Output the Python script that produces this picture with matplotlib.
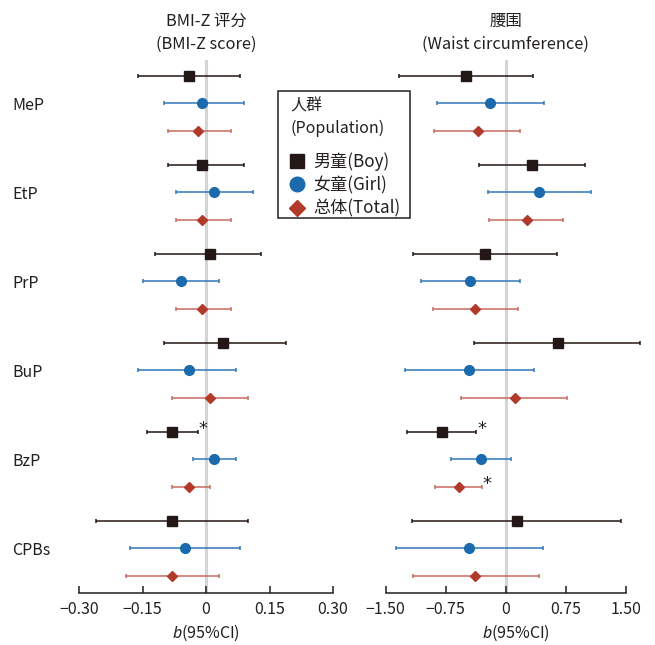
import matplotlib
matplotlib.use("Agg")
import matplotlib.pyplot as plt
from matplotlib.lines import Line2D
from matplotlib.patches import Rectangle
from matplotlib.transforms import blended_transform_factory
import numpy as np

plt.rcParams['font.family'] = ['Noto Sans CJK SC', 'DejaVu Sans']
plt.rcParams['mathtext.fontset'] = 'custom'
plt.rcParams['mathtext.it'] = 'Noto Sans:italic'
plt.rcParams['mathtext.rm'] = 'Noto Sans CJK SC'
plt.rcParams['axes.unicode_minus'] = True

# ---------------- data ----------------
categories = ["MeP", "EtP", "PrP", "BuP", "BzP", "CPBs"]
groups = ["男童(Boy)", "女童(Girl)", "总体(Total)"]

# BMI-Z score: estimate, lower CI, upper CI
bmi_boy_est = [-0.04, -0.01, 0.01, 0.04, -0.08, -0.08]
bmi_boy_lo = [-0.16, -0.09, -0.12, -0.10, -0.14, -0.26]
bmi_boy_hi = [0.08, 0.09, 0.13, 0.19, -0.02, 0.10]
bmi_girl_est = [-0.01, 0.02, -0.06, -0.04, 0.02, -0.05]
bmi_girl_lo = [-0.10, -0.07, -0.15, -0.16, -0.03, -0.18]
bmi_girl_hi = [0.09, 0.11, 0.03, 0.07, 0.07, 0.08]
bmi_tot_est = [-0.02, -0.01, -0.01, 0.01, -0.04, -0.08]
bmi_tot_lo = [-0.09, -0.07, -0.07, -0.08, -0.08, -0.19]
bmi_tot_hi = [0.06, 0.06, 0.06, 0.10, 0.01, 0.03]
bmi_boy_sig = [False, False, False, False, True, False]
bmi_girl_sig = [False] * 6
bmi_tot_sig = [False] * 6

# Waist circumference
wc_boy_est = [-0.50, 0.33, -0.26, 0.65, -0.80, 0.14]
wc_boy_lo = [-1.34, -0.34, -1.16, -0.40, -1.23, -1.17]
wc_boy_hi = [0.34, 0.99, 0.64, 1.68, -0.37, 1.44]
wc_girl_est = [-0.20, 0.41, -0.45, -0.46, -0.31, -0.46]
wc_girl_lo = [-0.86, -0.22, -1.06, -1.26, -0.68, -1.37]
wc_girl_hi = [0.48, 1.06, 0.18, 0.35, 0.07, 0.47]
wc_tot_est = [-0.35, 0.26, -0.38, 0.11, -0.59, -0.38]
wc_tot_lo = [-0.90, -0.21, -0.91, -0.56, -0.89, -1.16]
wc_tot_hi = [0.18, 0.72, 0.15, 0.77, -0.30, 0.42]
wc_boy_sig = [False, False, False, False, True, False]
wc_girl_sig = [False] * 6
wc_tot_sig = [False, False, False, False, True, False]

bmi_ticks = [-0.30, -0.15, 0, 0.15, 0.30]
bmi_ticklabels = ["−0.30", "−0.15", "0", "0.15", "0.30"]
wc_ticks = [-1.50, -0.75, 0, 0.75, 1.50]
wc_ticklabels = ["−1.50", "−0.75", "0", "0.75", "1.50"]

# ---------------- style ----------------
marker_col = ["#231815", "#1b6aad", "#b23a2b"]
err_col = ["#231815", "#2f78b8", "#c86a5f"]
markers = ["s", "o", "D"]
msizes = [7.0, 7.0, 5.5]
dark = "#231f20"

W, H = 655, 645
fig = plt.figure(figsize=(W / 100, H / 100), dpi=100)

ax_top, ax_bot = 60, 592.7
axL = fig.add_axes([79 / W, 1 - ax_bot / H, (333 - 79) / W, (ax_bot - ax_top) / H])
axR = fig.add_axes([385.7 / W, 1 - ax_bot / H, 260 / W, (ax_bot - ax_top) / H])

gap = 3.24
ncat = len(categories)
group_base = np.arange(ncat) * gap


def draw(ax, est, lo, hi, sig):
    for k in range(3):
        e = np.array(est[k]); l = np.array(lo[k]); h = np.array(hi[k])
        y = -(group_base + k)
        ax.errorbar(e, y, xerr=[e - l, h - e], fmt='none', ecolor=err_col[k],
                    elinewidth=1.1, capsize=1.7, capthick=1.1, zorder=3)
        ax.plot(e, y, linestyle='none', marker=markers[k], ms=msizes[k],
                color=marker_col[k], mec=marker_col[k], zorder=4)
        for i in range(ncat):
            if sig[k][i]:
                ax.annotate("*", xy=(h[i], y[i]), xytext=(0.8, -1.3), textcoords='offset points',
                            ha='left', va='baseline', fontsize=13, color=dark,
                            family='DejaVu Sans')


draw(axL, [bmi_boy_est, bmi_girl_est, bmi_tot_est], [bmi_boy_lo, bmi_girl_lo, bmi_tot_lo],
     [bmi_boy_hi, bmi_girl_hi, bmi_tot_hi], [bmi_boy_sig, bmi_girl_sig, bmi_tot_sig])
draw(axR, [wc_boy_est, wc_girl_est, wc_tot_est], [wc_boy_lo, wc_girl_lo, wc_tot_lo],
     [wc_boy_hi, wc_girl_hi, wc_tot_hi], [wc_boy_sig, wc_girl_sig, wc_tot_sig])

ylo = -(group_base[-1] + 2) - 0.61
yhi = 0.58
for ax, ticks, labels, xl, title in [
        (axL, bmi_ticks, bmi_ticklabels, (-0.30, 0.30), "BMI-Z 评分\n(BMI-Z score)"),
        (axR, wc_ticks, wc_ticklabels, (-1.50, 1.75), "腰围\n(Waist circumference)")]:
    ax.set_xlim(*xl)
    ax.set_ylim(ylo, yhi)
    ax.axvline(0, color="#d4d4d4", lw=2.2, zorder=1)
    for s in ['top', 'right', 'left']:
        ax.spines[s].set_visible(False)
    ax.spines['bottom'].set_color(dark)
    ax.spines['bottom'].set_linewidth(1.1)
    ax.spines['bottom'].set_bounds(ticks[0], ticks[-1])
    ax.set_xticks(ticks)
    ax.set_xticklabels(labels)
    ax.tick_params(axis='x', direction='in', length=5, width=1.1, color=dark,
                   labelsize=11.5, labelcolor=dark, pad=6)
    ax.set_xlabel(r"$b$(95%CI)", fontsize=11.5, color=dark, labelpad=3)
    ax.set_facecolor('none')
    tr = blended_transform_factory(ax.transData, ax.transAxes)
    ax.text(0, 1.0 + 7.5 / (ax_bot - ax_top), title, transform=tr, ha='center', va='bottom',
            fontsize=11.8, color=dark, linespacing=1.45)

axL.set_yticks(-(group_base + 1))
axL.set_yticklabels(categories, ha='left')
axL.tick_params(axis='y', length=0, pad=48, labelsize=11.5, labelcolor=dark)
axR.set_yticks([])

# legend frame (drawn separately so paddings match the reference)
fig.add_artist(Rectangle((278 / W, 1 - 218 / H), 132 / W, 127 / H, transform=fig.transFigure,
                         facecolor='white', edgecolor=dark, linewidth=1.1, zorder=4))

handles = [Line2D([], [], linestyle='none', marker=markers[k], ms=[10, 10.5, 8][k],
                  color=marker_col[k]) for k in range(3)]
leg = fig.legend(handles, groups, loc='upper left', bbox_to_anchor=(290 / W, 1 - 97 / H),
                 title="人群\n(Population)", title_fontsize=11.5, fontsize=12.3,
                 alignment='left', frameon=False, handlelength=0.82, handletextpad=0.53,
                 labelspacing=0.3, borderpad=0, borderaxespad=0)
leg.set_zorder(5)
leg.get_title().set_linespacing(1.45)
leg.get_title().set_color(dark)
leg._legend_box.sep = 10.8
for t in leg.get_texts():
    t.set_color(dark)

fig.savefig("out.png", dpi=100)
